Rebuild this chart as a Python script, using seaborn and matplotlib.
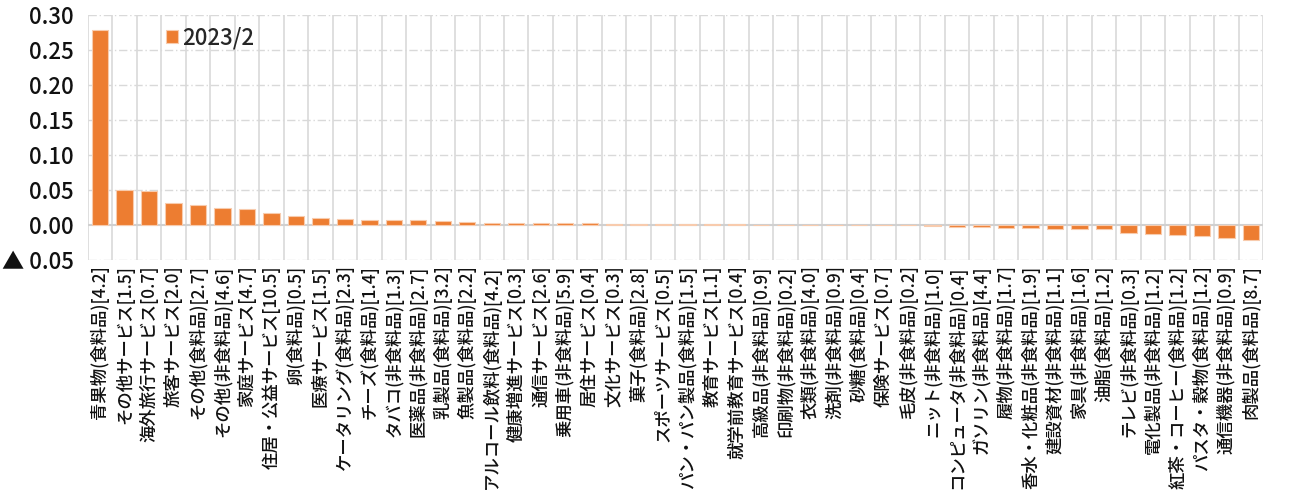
import pandas as pd
import seaborn as sns
import matplotlib.pyplot as plt

items = [
    "青果物(食料品)[4.2]", "その他サービス[1.5]", "海外旅行サービス[0.7]", "旅客サービス[2.0]",
    "その他(食料品)[2.7]", "その他(非食料品)[4.6]", "家庭サービス[4.7]", "住居・公益サービス[10.5]",
    "卵(食料品)[0.5]", "医療サービス[1.5]", "ケータリング(食料品)[2.3]", "チーズ(食料品)[1.4]",
    "タバコ(非食料品)[1.3]", "医薬品(非食料品)[2.7]", "乳製品(食料品)[3.2]", "魚製品(食料品)[2.2]",
    "アルコール飲料(食料品)[4.2]", "健康増進サービス[0.3]", "通信サービス[2.6]", "乗用車(非食料品)[5.9]",
    "居住サービス[0.4]", "文化サービス[0.3]", "菓子(食料品)[2.8]", "スポーツサービス[0.5]",
    "パン・パン製品(食料品)[1.5]", "教育サービス[1.1]", "就学前教育サービス[0.4]", "高級品(非食料品)[0.9]",
    "印刷物(非食料品)[0.2]", "衣類(非食料品)[4.0]", "洗剤(非食料品)[0.9]", "砂糖(食料品)[0.4]",
    "保険サービス[0.7]", "毛皮(非食料品)[0.2]", "ニット(非食料品)[1.0]", "コンピュータ(非食料品)[0.4]",
    "ガソリン(非食料品)[4.4]", "履物(非食料品)[1.7]", "香水・化粧品(非食料品)[1.9]", "建設資材(非食料品)[1.1]",
    "家具(非食料品)[1.6]", "油脂(食料品)[1.2]", "テレビ(非食料品)[0.3]", "電化製品(非食料品)[1.2]",
    "紅茶・コーヒー(食料品)[1.2]", "パスタ・穀物(食料品)[1.2]", "通信機器(非食料品)[0.9]", "肉製品(食料品)[8.7]",
]
values = [
    0.279, 0.050, 0.049, 0.032, 0.028, 0.024, 0.023, 0.017,
    0.0127, 0.0095, 0.0081, 0.0079, 0.0071, 0.0067, 0.0052, 0.0043,
    0.0033, 0.0029, 0.0028, 0.0026, 0.0024, 0.0019, 0.0017, 0.0014,
    0.0014, 0.0012, 0.0010, 0.0006, 0.0003, 0.0001, 0.0, 0.0,
    -0.0003, -0.0005, -0.0008, -0.0030, -0.0031, -0.0037, -0.0047, -0.0051,
    -0.0052, -0.0052, -0.0110, -0.0133, -0.0138, -0.0160, -0.0190, -0.0220,
]
series_name = "2023/2"
yticks = [-0.05, 0.0, 0.05, 0.10, 0.15, 0.20, 0.25, 0.30]
ytick_labels = ["▲ 0.05", "0.00", "0.05", "0.10", "0.15", "0.20", "0.25", "0.30"]

df = pd.DataFrame({"item": items, "value": values})

sns.set_style("white")
plt.rcParams["font.family"] = ["Noto Sans CJK JP", "DejaVu Sans"]

fig = plt.figure(figsize=(12.89, 5.03), dpi=100)
ax = fig.add_axes([0.068, 0.483, 0.912, 0.487])

sns.barplot(data=df, x="item", y="value", color="#ED7D31", saturation=1, width=0.67,
            edgecolor="#F8CBAD", linewidth=0.8, label=series_name, ax=ax, zorder=3)

n = len(items)
ax.set_xlim(-0.5, n - 0.5)
ax.set_ylim(-0.05, 0.30)
ax.set_yticks(yticks)
ax.set_yticklabels(ytick_labels, fontsize=16, fontweight="medium", color="#111111")
ax.set_xticks(range(n))
ax.set_xticklabels(items, rotation=90, fontsize=12.5, va="top", fontweight="medium",
                   color="#111111")
ax.tick_params(axis="y", length=0, pad=10)
ax.tick_params(axis="x", length=0, pad=4)
ax.set_xlabel("")
ax.set_ylabel("")

# grid: vertical separators between categories, dash-dot horizontal lines
for b in range(n + 1):
    ax.axvline(b - 0.5, color="#D9D9D9", lw=1.2, zorder=1)
for t in yticks:
    if t != 0:
        ax.axhline(t, color="#D9D9D9", lw=1, ls=(0, (6, 2, 1, 2)), zorder=1)
ax.axhline(0, color="#D0D0D0", lw=1.5, zorder=2)

for s in ax.spines.values():
    s.set_visible(False)

leg = ax.legend(loc="upper left", bbox_to_anchor=(0.05, 1.035), frameon=False,
                prop={"size": 16, "weight": "medium"},
                handlelength=0.5, handleheight=0.5, handletextpad=0.2)

fig.savefig("out.png", dpi=100)
